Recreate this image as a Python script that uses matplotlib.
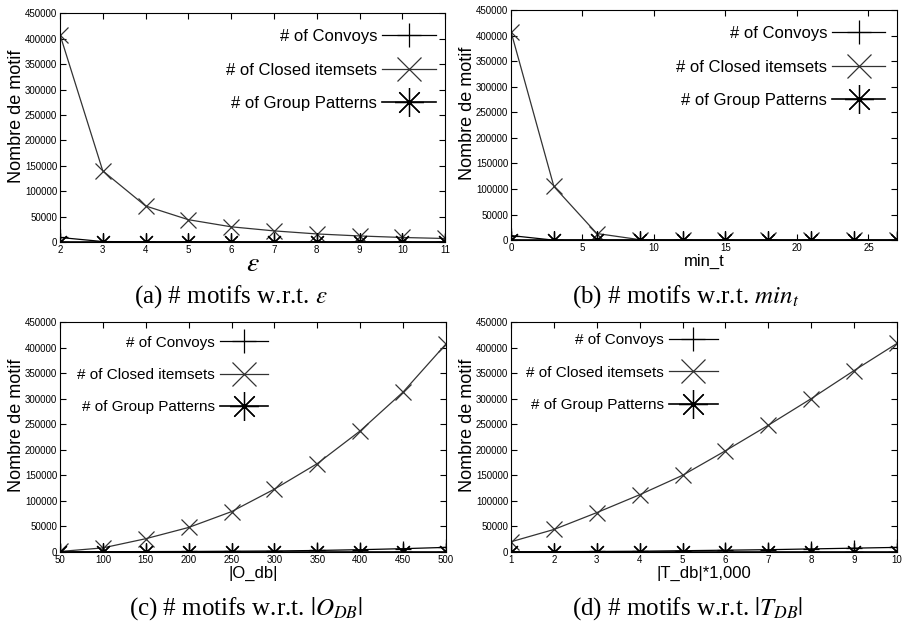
import matplotlib
matplotlib.use("Agg")
import matplotlib.pyplot as plt

plt.rcParams["font.family"] = ["Liberation Sans", "DejaVu Sans"]
plt.rcParams["mathtext.fontset"] = "stix"

# panel (a): epsilon
eps = [2, 3, 4, 5, 6, 7, 8, 9, 10, 11]
eps_convoys = [9000, 1000, 400, 300, 200, 150, 100, 100, 100, 100]
eps_closed = [408000, 140000, 71000, 44000, 30000, 22000, 16000, 12000, 9000, 7000]
eps_group = [0, 0, 0, 0, 0, 0, 0, 0, 0, 0]

# panel (b): min_t
mint = [0, 3, 6, 9, 12, 15, 18, 21, 24, 27]
mint_convoys = [9000, 0, 0, 0, 0, 0, 0, 0, 0, 0]
mint_closed = [408000, 105000, 13000, 1000, 0, 0, 0, 0, 0, 0]
mint_group = [0, 0, 0, 0, 0, 0, 0, 0, 0, 0]

# panel (c): |O_db|
odb = [50, 100, 150, 200, 250, 300, 350, 400, 450, 500]
odb_convoys = [0, 500, 800, 1000, 1500, 2000, 3000, 4500, 6500, 9000]
odb_closed = [1000, 8000, 26000, 48000, 79000, 123000, 173000, 237000, 313000, 407000]
odb_group = [0, 0, 0, 0, 0, 0, 0, 0, 0, 0]

# panel (d): |T_db|
tdb = [1, 2, 3, 4, 5, 6, 7, 8, 9, 10]
tdb_convoys = [300, 500, 1000, 1500, 2500, 3500, 4500, 6000, 7500, 9000]
tdb_closed = [20000, 44000, 77000, 112000, 150000, 198000, 248000, 300000, 355000, 408000]
tdb_group = [0, 0, 0, 0, 0, 0, 0, 0, 0, 0]

labels = ["# of Convoys", "# of Closed itemsets", "# of Group Patterns"]

fig = plt.figure(figsize=(9.02, 6.32), dpi=100)


def panel(rect, x, conv, clos, grp, xlim, xticks, xlabel, xlab_size, xpad,
          leg_x, leg_y, leg_fs, leg_sp):
    ax = fig.add_axes(rect)
    ax.plot(x, conv, color="black", lw=0.9, marker="+", ms=11, mew=0.9, label=labels[0])
    ax.plot(x, clos, color="#333333", lw=0.9, marker="x", ms=11, mew=0.9, label=labels[1])
    ax.plot(x, grp, color="black", lw=1.2, marker=(8, 2, 0), ms=13, mew=0.9, label=labels[2])
    ax.set_xlim(xlim)
    ax.set_ylim(0, 450000)
    ax.set_xticks(xticks)
    ax.set_yticks(range(0, 450001, 50000))
    ax.tick_params(direction="in", top=True, right=True, labelsize=7, length=4, pad=2)
    ax.set_ylabel("Nombre de motif", fontsize=13)
    ax.yaxis.set_label_coords(-0.09, 0.55)
    ax.set_xlabel(xlabel, fontsize=xlab_size, labelpad=xpad)
    ax.legend(loc="upper right", bbox_to_anchor=(leg_x, leg_y), frameon=False,
              markerfirst=False, fontsize=leg_fs, handlelength=3.2, handletextpad=0.3,
              labelspacing=leg_sp, markerscale=1.6, borderaxespad=0, borderpad=0)
    return ax


panel([0.0665, 0.617, 0.427, 0.362], eps, eps_convoys, eps_closed, eps_group,
      (2, 11), eps, r"$\varepsilon$", 20, -3, 0.975, 0.93, 12, 1.1)
panel([0.5665, 0.620, 0.428, 0.364], mint, mint_convoys, mint_closed, mint_group,
      (0, 27), [0, 5, 10, 15, 20, 25], "min_t", 12, 1, 0.97, 0.93, 12, 1.1)
panel([0.0665, 0.1266, 0.428, 0.364], odb, odb_convoys, odb_closed, odb_group,
      (50, 500), odb, "|O_db|", 12, 1, 0.54, 0.94, 11, 1.2)
panel([0.5665, 0.1266, 0.428, 0.364], tdb, tdb_convoys, tdb_closed, tdb_group,
      (1, 10), tdb, "|T_db|*1,000", 12, 1, 0.535, 0.95, 11, 1.2)

cap = dict(fontsize=18, family="Liberation Serif", ha="center", va="center")
fig.text(231 / 902, 1 - 297 / 632, r"(a) # motifs w.r.t. $\varepsilon$", **cap)
fig.text(686 / 902, 1 - 297 / 632, r"(b) # motifs w.r.t. $min_t$", **cap)
fig.text(246 / 902, 1 - 609 / 632, r"(c) # motifs w.r.t. $|O_{DB}|$", **cap)
fig.text(688 / 902, 1 - 609 / 632, r"(d) # motifs w.r.t. $|T_{DB}|$", **cap)

plt.savefig("out.png", dpi=100)
